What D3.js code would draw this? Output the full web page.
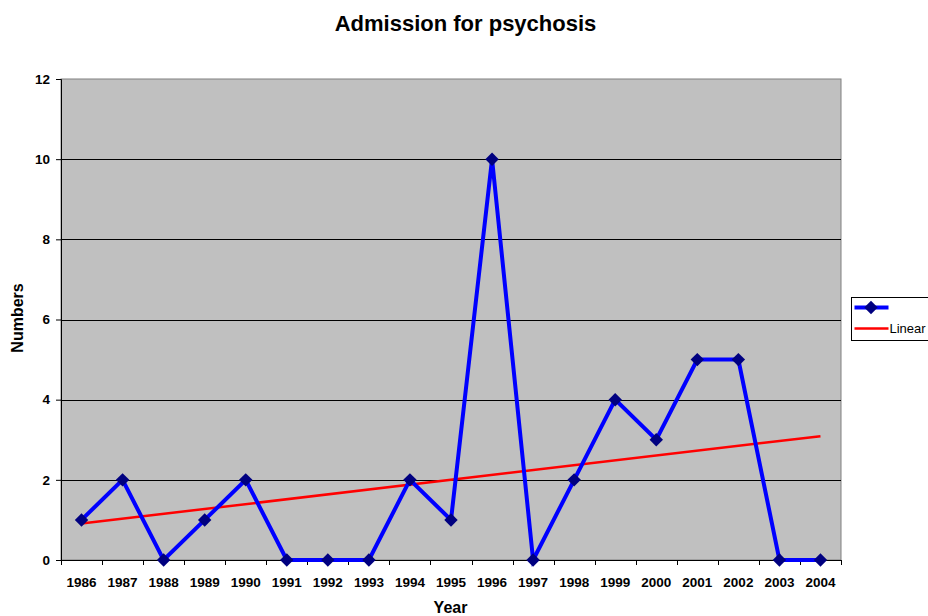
<!DOCTYPE html>
<html>
<head>
<meta charset="utf-8">
<script src="https://cdn.jsdelivr.net/npm/d3@7"></script>
<style>
  body { margin: 0; background: #ffffff; }
  text { font-family: "Liberation Sans", Arial, sans-serif; }
</style>
</head>
<body>
<svg id="chart" width="928" height="616"></svg>
<script>
const years = ["1986", "1987", "1988", "1989", "1990", "1991", "1992", "1993", "1994", "1995",
    "1996", "1997", "1998", "1999", "2000", "2001", "2002", "2003", "2004"];
const admissions = [1, 2, 0, 1, 2, 0, 0, 0, 2, 1, 10, 0, 2, 4, 3, 5, 5, 0, 0];
const trendStart = 0.91;
const trendEnd = 3.09;
const yTicks = [0, 2, 4, 6, 8, 10, 12];

const svg = d3.select("svg#chart");

/* plot area */
let margin = { top: 79, left: 61, right: 87, bottom: 56 };
let width = 928 - margin.left - margin.right;
let height = 616 - margin.top - margin.bottom;

let plot = svg.append("g")
    .attr("transform", "translate(" + margin.left + "," + margin.top + ")");

let x = d3.scaleBand()
    .domain(years)
    .range([0, width]);

let y = d3.scaleLinear()
    .domain([0, 12])
    .range([height, 0]);

plot.append("rect")
    .attr("width", width)
    .attr("height", height)
    .attr("fill", "#c0c0c0")
    .attr("stroke", "#808080")
    .attr("stroke-width", 1);

// gridlines
plot.selectAll("line.grid")
    .data(yTicks.filter(d => d > 0 && d < 12))
    .enter().append("line")
    .attr("class", "grid")
    .attr("x1", 0)
    .attr("x2", width)
    .attr("y1", d => Math.round(y(d)) + 0.5)
    .attr("y2", d => Math.round(y(d)) + 0.5)
    .attr("stroke", "#000000")
    .attr("stroke-width", 1);

// axes
let yAxis = plot.append("g")
    .call(d3.axisLeft(y).tickValues(yTicks).tickSize(5).tickPadding(6));
yAxis.select("path.domain").attr("stroke", "#000000");
yAxis.selectAll(".tick text")
    .style("font-size", "13.5px")
    .style("font-weight", "bold")
    .attr("fill", "#000");

let xAxis = plot.append("g")
    .attr("transform", "translate(0," + height + ")")
    .call(d3.axisBottom(x).tickSize(0).tickPadding(17));
xAxis.select("path.domain").attr("stroke", "#000000");
xAxis.selectAll(".tick text")
    .style("font-size", "13.5px")
    .style("font-weight", "bold")
    .attr("fill", "#000");

// category boundary ticks
xAxis.selectAll("line.bound")
    .data(years.concat(["end"]))
    .enter().append("line")
    .attr("class", "bound")
    .attr("x1", (d, i) => Math.round(i * x.step()) + 0.5)
    .attr("x2", (d, i) => Math.round(i * x.step()) + 0.5)
    .attr("y1", 0)
    .attr("y2", 5)
    .attr("stroke", "#000");

// trend line
plot.append("line")
    .attr("x1", x(years[0]) + x.bandwidth() / 2)
    .attr("x2", x(years[years.length - 1]) + x.bandwidth() / 2)
    .attr("y1", y(trendStart))
    .attr("y2", y(trendEnd))
    .attr("stroke", "#ff0000")
    .attr("stroke-width", 2.5);

// data line
let line = d3.line()
    .x((d, i) => x(years[i]) + x.bandwidth() / 2)
    .y(d => y(d));

plot.append("path")
    .datum(admissions)
    .attr("d", line)
    .attr("fill", "none")
    .attr("stroke", "#0000ff")
    .attr("stroke-width", 4)
    .attr("stroke-linejoin", "miter");

let diamond = d3.symbol().type(d3.symbolSquare).size(90);

plot.selectAll("path.marker")
    .data(admissions)
    .enter().append("path")
    .attr("class", "marker")
    .attr("d", diamond)
    .attr("transform", (d, i) => "translate(" + (x(years[i]) + x.bandwidth() / 2) + "," + y(d) + ")rotate(45)")
    .attr("fill", "#000080");

// titles
svg.append("text")
    .attr("x", 465.5)
    .attr("y", 31)
    .attr("text-anchor", "middle")
    .style("font-size", "22px")
    .style("font-weight", "bold")
    .text("Admission for psychosis");

svg.append("text")
    .attr("transform", "translate(23,318)rotate(-90)")
    .attr("text-anchor", "middle")
    .style("font-size", "16px")
    .style("font-weight", "bold")
    .text("Numbers");

svg.append("text")
    .attr("x", 450.5)
    .attr("y", 613)
    .attr("text-anchor", "middle")
    .style("font-size", "16px")
    .style("font-weight", "bold")
    .text("Year");

// legend
let legend = svg.append("g").attr("transform", "translate(851.5,297.5)");
legend.append("rect")
    .attr("width", 90)
    .attr("height", 43)
    .attr("fill", "#ffffff")
    .attr("stroke", "#000000");
legend.append("line")
    .attr("x1", 3).attr("x2", 37).attr("y1", 10).attr("y2", 10)
    .attr("stroke", "#0000ff").attr("stroke-width", 4);
legend.append("path")
    .attr("d", diamond)
    .attr("transform", "translate(19.5,10)rotate(45)")
    .attr("fill", "#000080");
legend.append("line")
    .attr("x1", 3).attr("x2", 37).attr("y1", 31).attr("y2", 31)
    .attr("stroke", "#ff0000").attr("stroke-width", 2.5);
legend.append("text")
    .attr("x", 38)
    .attr("y", 35.5)
    .style("font-size", "13px")
    .text("Linear");
</script>
</body>
</html>
